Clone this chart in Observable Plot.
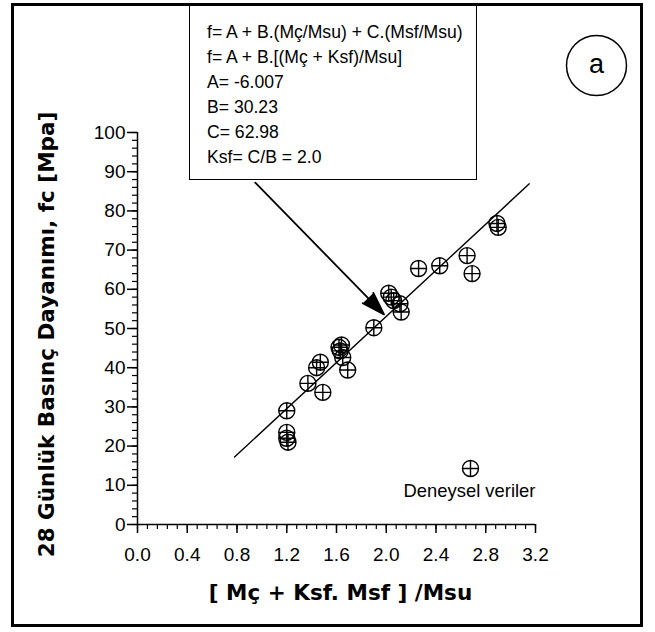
<!DOCTYPE html>
<html>
<head>
<meta charset="utf-8">
<script src="https://cdn.jsdelivr.net/npm/d3@7"></script>
<script src="https://cdn.jsdelivr.net/npm/@observablehq/plot@0.6"></script>
<style>
html, body { margin: 0; padding: 0; background: #fff; }
#wrap { position: relative; width: 655px; height: 632px; overflow: hidden; background: #fff; }
#wrap svg { position: absolute; left: 0; top: 0; }
#frame { position: absolute; left: 11px; top: 3px; width: 632px; height: 624px; box-sizing: border-box; border: 3px solid #000; pointer-events: none; }
#box { position: absolute; left: 189px; top: 3px; width: 288px; height: 177px; box-sizing: border-box; border: 1.5px solid #000; background: #fff;
  padding: 16px 0 0 17px; font-family: "Liberation Sans", Arial, sans-serif; font-size: 17.6px; line-height: 25px; color: #000; }
#box div { white-space: nowrap; }
</style>
</head>
<body>
<div id="wrap"></div>
<script>
const xData = [1.20, 1.20, 1.20, 1.21, 1.37, 1.44, 1.47, 1.49, 1.62, 1.64, 1.63, 1.65, 1.69, 1.90, 2.02, 2.04, 2.06, 2.11, 2.12, 2.26, 2.43, 2.65, 2.69, 2.89, 2.90];
const yData = [29.0, 23.5, 22.0, 21.0, 36.0, 40.0, 41.4, 33.7, 45.2, 45.8, 44.3, 42.6, 39.4, 50.2, 59.0, 58.0, 57.1, 56.3, 54.2, 65.3, 66.0, 68.6, 64.0, 76.8, 75.8];

// Regression line end points
const fitX = [0.78, 3.15];
const fitY = [17.2, 86.9];

// Axis ticks
const xTicks = [0.0, 0.4, 0.8, 1.2, 1.6, 2.0, 2.4, 2.8, 3.2];
const xMinor = d3.range(0, 3.2001, 0.08);
const yTicks = [0, 10, 20, 30, 40, 50, 60, 70, 80, 90, 100];
const yMinor = d3.range(0, 100.001, 2);

// Texts
const formulaLines = [
  "f= A + B.(Mç/Msu) + C.(Msf/Msu)",
  "f= A + B.[(Mç + Ksf)/Msu]",
  "A= -6.007",
  "B= 30.23",
  "C= 62.98",
  "Ksf= C/B = 2.0"
];
const xTitle = "[ Mç + Ksf. Msf ] /Msu";
const yTitle = "28 Günlük Basınç Dayanımı, fc [Mpa]";
const legendLabel = "Deneysel veriler";
const panelLabel = "a";

// Annotation arrow (from the box to the line)
const arrowFrom = [0.947, 87.2];
const arrowTo = [1.982, 53.6];

const points = xData.map((x, i) => ({x, y: yData[i]}));
const fit = fitX.map((x, i) => ({x, y: fitY[i]}));

// circle with a cross inside
const ringPlus = {
  draw(ctx, size) {
    const r = Math.sqrt(size / Math.PI);
    ctx.moveTo(r, 0);
    ctx.arc(0, 0, r, 0, 2 * Math.PI);
    ctx.moveTo(-r, 0); ctx.lineTo(r, 0);
    ctx.moveTo(0, -r); ctx.lineTo(0, r);
  }
};

const chart = Plot.plot({
  width: 655,
  height: 632,
  marginLeft: 137,
  marginRight: 120,
  marginTop: 132,
  marginBottom: 108,
  x: {domain: [0, 3.2], axis: null},
  y: {domain: [0, 100], axis: null},
  style: {fontFamily: "'Liberation Sans', Arial, sans-serif", fontSize: "19px", color: "#000", background: "#fff", overflow: "visible"},
  marks: [
    Plot.ruleY([0], {x1: 0, x2: 3.2, stroke: "#000", strokeWidth: 1.5}),
    Plot.ruleX([0], {y1: 0, y2: 100, stroke: "#000", strokeWidth: 1.5}),
    Plot.axisX(xMinor, {tickSize: 5, tickFormat: () => "", label: null, strokeWidth: 1.2}),
    Plot.axisX(xTicks, {tickSize: 9, tickPadding: 14, tickFormat: d => d.toFixed(1), label: null, strokeWidth: 1.5, fontSize: 19}),
    Plot.axisY(yMinor, {tickSize: 5, tickFormat: () => "", label: null, strokeWidth: 1.2}),
    Plot.axisY(yTicks, {tickSize: 10, tickPadding: 2, label: null, strokeWidth: 1.5, fontSize: 19}),
    Plot.line(fit, {x: "x", y: "y", stroke: "#000", strokeWidth: 1.4}),
    Plot.arrow([{x1: arrowFrom[0], y1: arrowFrom[1], x2: arrowTo[0], y2: arrowTo[1]}], {
      x1: "x1", y1: "y1", x2: "x2", y2: "y2", stroke: "#000", fill: "#000", strokeWidth: 1.8, headLength: 20, headAngle: 36
    }),
    Plot.dot(points, {x: "x", y: "y", r: 8, symbol: ringPlus, fill: "none", stroke: "#000", strokeWidth: 1.4}),
    // legend
    Plot.dot([legendLabel], {frameAnchor: "bottom-right", dx: -65, dy: -56, r: 8, symbol: ringPlus, fill: "none", stroke: "#000", strokeWidth: 1.4}),
    Plot.text([legendLabel], {frameAnchor: "bottom-right", dx: -66, dy: -33, text: d => d, textAnchor: "middle", lineAnchor: "middle", fontSize: 18.4}),
    // panel label
    Plot.dot([panelLabel], {frameAnchor: "top-right", dx: 61, dy: -67, r: 30, fill: "none", stroke: "#000", strokeWidth: 1.5}),
    Plot.text([panelLabel], {frameAnchor: "top-right", dx: 61, dy: -68, text: d => d, textAnchor: "middle", lineAnchor: "middle", fontSize: 27}),
    // axis titles
    Plot.text([xTitle], {frameAnchor: "bottom", dx: 4, dy: 69, text: d => d, textAnchor: "middle", lineAnchor: "middle",
      fontFamily: "'DejaVu Sans', Verdana, sans-serif", fontWeight: "bold", fontSize: 21.5}),
    Plot.text([yTitle], {frameAnchor: "left", dx: -90, dy: 6, rotate: -90, text: d => d, textAnchor: "middle", lineAnchor: "middle",
      fontFamily: "'DejaVu Sans', Verdana, sans-serif", fontWeight: "bold", fontSize: 21.5})
  ]
});

const wrap = document.getElementById("wrap");
wrap.appendChild(chart);
const box = document.createElement("div");
box.id = "box";
formulaLines.forEach(t => { const d = document.createElement("div"); d.textContent = t; box.appendChild(d); });
wrap.appendChild(box);
const frame = document.createElement("div");
frame.id = "frame";
wrap.appendChild(frame);
</script>
</body>
</html>
